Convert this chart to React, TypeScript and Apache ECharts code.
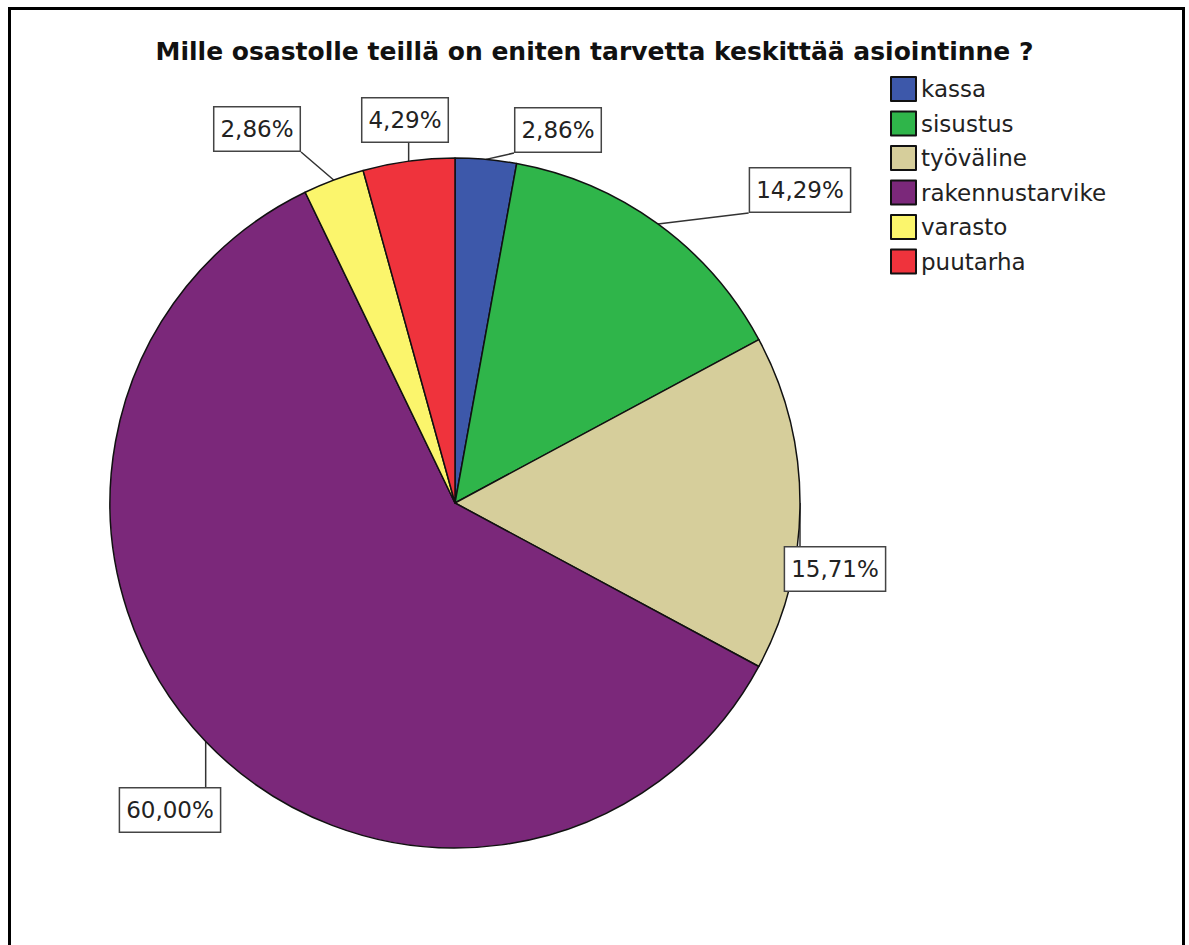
import React, { useEffect, useRef } from "react";
import * as echarts from "echarts";

const categories = ["kassa", "sisustus", "työväline", "rakennustarvike", "varasto", "puutarha"];
const percentages = [2.86, 14.29, 15.71, 60.0, 2.86, 4.29];
const colors = ["#3d58aa", "#2fb54a", "#d6ce9b", "#7b287a", "#fbf56c", "#ef333c"];
const titleText = "Mille osastolle teillä on eniten tarvetta keskittää asiointinne ?";

// label box centres (layout only)
const labelCenters = [
  [558, 130],
  [800, 190],
  [835, 569],
  [170, 810],
  [257, 129],
  [405, 120],
];

const PIE_CENTER = [455, 503];
const PIE_RADIUS = 345;

export default function App() {
  const ref = useRef<HTMLDivElement>(null);
  useEffect(() => {
    if (!ref.current) return;
    const chart = echarts.init(ref.current, null, { renderer: "svg" });
    const total = percentages.reduce((a, b) => a + b, 0);
    const cum: number[] = [];
    let acc = 0;
    percentages.forEach((v) => {
      cum.push(acc + v / 2);
      acc += v;
    });
    chart.setOption({
      animation: false,
      backgroundColor: "#ffffff",
      color: colors,
      title: {
        text: titleText,
        left: "center",
        top: 34,
        textStyle: {
          fontFamily: "DejaVu Sans",
          fontWeight: "bold",
          fontSize: 25,
          color: "#111",
        },
      },
      legend: {
        orient: "vertical",
        left: 890,
        top: 76,
        padding: 0,
        icon: "rect",
        itemWidth: 25,
        itemHeight: 24,
        itemGap: 8.5,
        data: categories,
        textStyle: { fontFamily: "DejaVu Sans", fontSize: 23, color: "#222" },
      },
      graphic: [
        {
          type: "rect",
          silent: true,
          shape: { x: 9.5, y: 8.5, width: 1174, height: 1000 },
          style: { fill: "none", stroke: "#000", lineWidth: 3 },
          z: -10,
        },
      ],
      series: [
        {
          type: "pie",
          center: PIE_CENTER,
          radius: PIE_RADIUS,
          startAngle: 90,
          clockwise: true,
          avoidLabelOverlap: false,
          itemStyle: { borderColor: "#111", borderWidth: 1.5 },
          emphasis: { disabled: true },
          label: {
            show: true,
            position: "outside",
            formatter: (p: any) => p.value.toFixed(2).replace(".", ",") + "%",
            fontFamily: "DejaVu Sans",
            fontSize: 23,
            color: "#222",
            backgroundColor: "#fff",
            borderColor: "#444",
            borderWidth: 1.5,
            padding: [9, 6, 7, 6],
            lineHeight: 27,
          },
          labelLine: {
            show: true,
            length: 20,
            length2: 10,
            lineStyle: { color: "#333", width: 1.5 },
          },
          labelLayout: (params: any) => {
            const i = params.dataIndex;
            const [cx, cy] = labelCenters[i];
            const w = params.labelRect.width;
            const h = params.labelRect.height;
            const ang = (cum[i] / total) * Math.PI * 2;
            const p0 = [
              PIE_CENTER[0] + PIE_RADIUS * Math.sin(ang),
              PIE_CENTER[1] - PIE_RADIUS * Math.cos(ang),
            ];
            const ex = Math.min(Math.max(p0[0], cx - w / 2), cx + w / 2);
            const ey = Math.min(Math.max(p0[1], cy - h / 2), cy + h / 2);
            return {
              x: cx,
              y: cy,
              align: "center",
              verticalAlign: "middle",
              labelLinePoints: [p0, [(p0[0] + ex) / 2, (p0[1] + ey) / 2], [ex, ey]],
            };
          },
          data: categories.map((name, i) => ({ name, value: percentages[i] })),
        },
      ],
    });
    return () => chart.dispose();
  }, []);
  return (
    <div
      ref={ref}
      style={{ position: "fixed", left: 0, top: 0, width: 1189, height: 945, background: "#fff" }}
    />
  );
}
